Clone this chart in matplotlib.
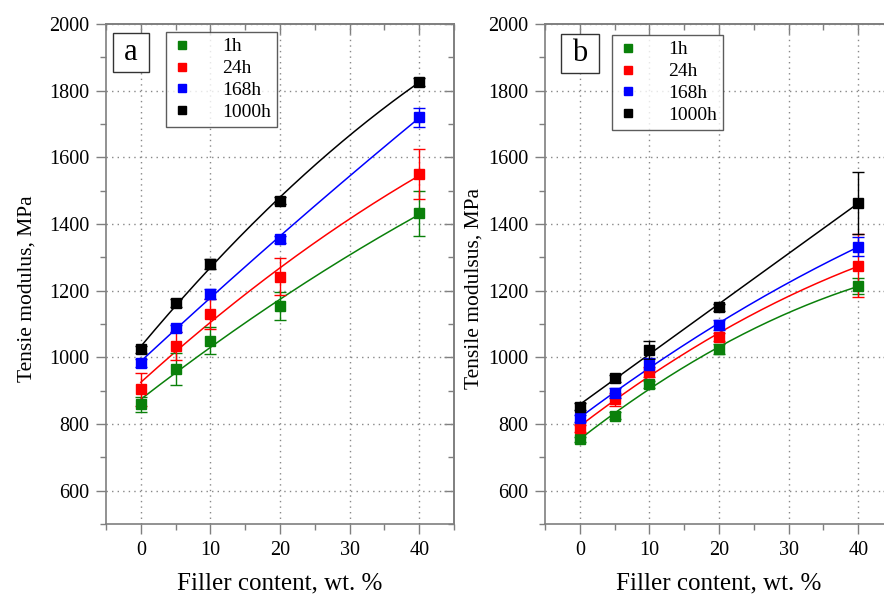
import numpy as np
import matplotlib
matplotlib.use("Agg")
import matplotlib.pyplot as plt
from matplotlib.ticker import MultipleLocator
from matplotlib.patches import Rectangle

plt.rcParams['font.family'] = ['Liberation Serif', 'DejaVu Serif']

filler = [0, 5, 10, 20, 40]
series_labels = ['1h', '24h', '168h', '1000h']
colors = ['#0a800a', '#ff0000', '#0000ff', '#000000']

# Panel a
a_1h = [859, 965, 1050, 1154, 1432]
a_24h = [904, 1035, 1130, 1242, 1550]
a_168h = [982, 1087, 1190, 1354, 1720]
a_1000h = [1024, 1162, 1279, 1470, 1827]
a_err_1h = [22, 47, 40, 43, 67]
a_err_24h = [50, 42, 45, 56, 76]
a_err_168h = [12, 10, 15, 10, 28]
a_err_1000h = [10, 12, 15, 10, 12]

# Panel b
b_1h = [754, 825, 919, 1024, 1214]
b_24h = [787, 874, 957, 1062, 1275]
b_168h = [817, 894, 977, 1097, 1332]
b_1000h = [852, 937, 1022, 1150, 1464]
b_err_1h = [8, 10, 10, 15, 25]
b_err_24h = [10, 20, 15, 12, 95]
b_err_168h = [10, 15, 20, 15, 28]
b_err_1000h = [10, 10, 27, 10, 93]

panels = [
    dict(tag='a', ylabel='Tensie modulus, MPa',
         vals=[a_1h, a_24h, a_168h, a_1000h],
         errs=[a_err_1h, a_err_24h, a_err_168h, a_err_1000h],
         left=106, ylab_x=-0.201, box=(0.020, 0.904, 0.1036, 0.078),
         leg=(0.1724, 0.984)),
    dict(tag='b', ylabel='Tensile modulsus, MPa',
         vals=[b_1h, b_24h, b_168h, b_1000h],
         errs=[b_err_1h, b_err_24h, b_err_168h, b_err_1000h],
         left=545, ylab_x=-0.178, box=(0.046, 0.902, 0.109, 0.078),
         leg=(0.1925, 0.978)),
]

W, H = 884, 594
fig = plt.figure(figsize=(W / 100, H / 100), dpi=100)
gray = '#7f7f7f'

for p in panels:
    ax = fig.add_axes([p['left'] / W, (H - 524) / H, 348 / W, 500 / H])
    x = np.array(filler, dtype=float)
    xf = np.linspace(0, 40, 200)
    for vals, errs, lab, c in zip(p['vals'], p['errs'], series_labels, colors):
        coef = np.polyfit(x, vals, 2)
        ax.plot(xf, np.polyval(coef, xf), color=c, lw=1.1, zorder=2)
        ax.errorbar(x, vals, yerr=errs, fmt='none', ecolor=c, elinewidth=1.0,
                    capsize=4, capthick=1.0, zorder=3)
        ax.plot(x, vals, 's', color=c, ms=7, zorder=4, label=lab, lw=0)
    ax.set_xlim(-5, 45)
    ax.set_ylim(500, 2000)
    ax.xaxis.set_major_locator(MultipleLocator(10))
    ax.xaxis.set_minor_locator(MultipleLocator(5))
    ax.yaxis.set_major_locator(MultipleLocator(200))
    ax.yaxis.set_minor_locator(MultipleLocator(100))
    ax.grid(True, which='major', color='#888888', linestyle=(0, (1, 3)), lw=1.0)
    for s in ax.spines.values():
        s.set_color(gray)
        s.set_linewidth(1.2)
    ax.tick_params(which='both', direction='out', colors=gray, labelcolor='black',
                   labelsize=14.5)
    ax.tick_params(which='major', length=7, width=1)
    ax.tick_params(which='minor', length=4, width=1)
    ax.tick_params(axis='x', pad=5)
    ax.tick_params(axis='y', pad=5)
    # inward mirrored ticks on top and right
    sx = ax.secondary_xaxis('top')
    sx.xaxis.set_major_locator(MultipleLocator(10))
    sx.xaxis.set_minor_locator(MultipleLocator(5))
    sx.tick_params(which='both', direction='in', colors=gray, labeltop=False)
    sx.tick_params(which='major', length=7, width=1)
    sx.tick_params(which='minor', length=4, width=1)
    sy = ax.secondary_yaxis('right')
    sy.yaxis.set_major_locator(MultipleLocator(200))
    sy.yaxis.set_minor_locator(MultipleLocator(100))
    sy.tick_params(which='both', direction='in', colors=gray, labelright=False)
    sy.tick_params(which='major', length=7, width=1)
    sy.tick_params(which='minor', length=4, width=1)
    for sec in (sx, sy):
        for s in sec.spines.values():
            s.set_color(gray)
            s.set_linewidth(1.2)

    ax.set_xlabel('Filler content, wt. %', fontsize=18)
    ax.xaxis.set_label_coords(0.5, -0.096)
    ax.set_ylabel(p['ylabel'], fontsize=15.5)
    ax.yaxis.set_label_coords(p['ylab_x'], 0.471)

    bx, by, bw, bh = p['box']
    ax.add_patch(Rectangle((bx, by), bw, bh, transform=ax.transAxes,
                           fc='white', ec='#333333', lw=1.0, zorder=6))
    ax.text(bx + bw / 2, by + bh / 2, p['tag'], transform=ax.transAxes,
            fontsize=22, ha='center', va='center', zorder=7)
    leg = ax.legend(loc='upper left', bbox_to_anchor=p['leg'], borderaxespad=0,
                    fontsize=14, frameon=True, fancybox=False, edgecolor='#333333',
                    handlelength=1.0, handletextpad=1.6, borderpad=0.3,
                    labelspacing=0.22, markerscale=0.8)
    leg.get_frame().set_linewidth(1.0)
    leg.set_zorder(8)

fig.savefig('out.png', dpi=100)
